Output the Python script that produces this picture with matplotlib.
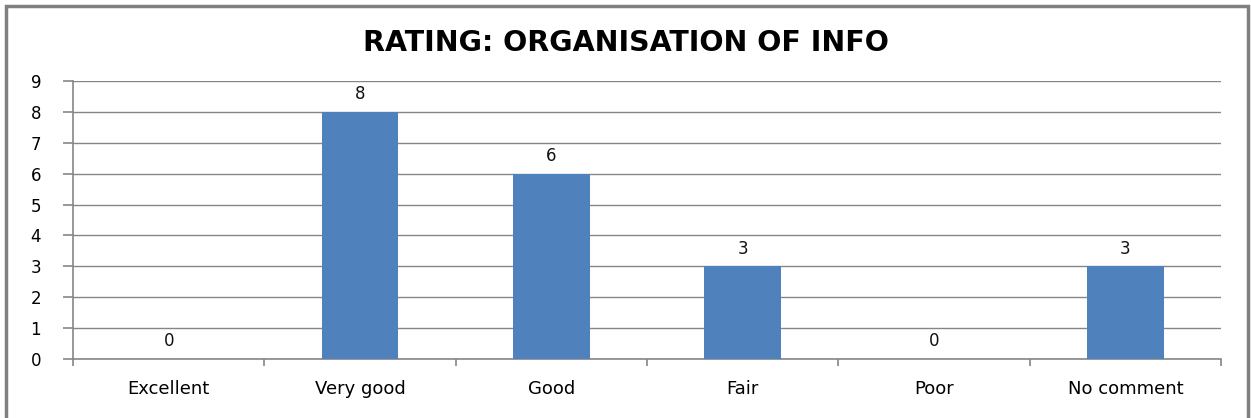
import matplotlib
matplotlib.use('Agg')
import matplotlib.pyplot as plt
from matplotlib.patches import Rectangle

categories = ['Excellent', 'Very good', 'Good', 'Fair', 'Poor', 'No comment']
counts = [0, 8, 6, 3, 0, 3]
y_ticks = list(range(0, 10))

plt.rcParams['font.family'] = ['DejaVu Sans']

fig = plt.figure(figsize=(12.51, 4.18), dpi=100)
ax = fig.add_axes([73 / 1251, 1 - 359 / 418, (1221 - 73) / 1251, (359 - 81) / 418])

x = list(range(len(categories)))
bars = ax.bar(x, counts, width=0.4, color='#4F81BD', zorder=3)
for xi, v in zip(x, counts):
    ax.text(xi, v + 0.28, str(v), ha='center', va='bottom', fontsize=12, color='#111111')

ax.set_xlim(-0.5, len(categories) - 0.5)
ax.set_ylim(0, 9)
ax.set_yticks(y_ticks)
ax.set_yticklabels([str(t) for t in y_ticks], fontsize=12)
ax.set_xticks(x)
ax.set_xticklabels(categories, fontsize=13)
ax.set_xticks([i - 0.5 for i in range(len(categories) + 1)], minor=True)
ax.tick_params(axis='x', which='major', length=0, pad=15)
ax.tick_params(axis='x', which='minor', length=5, color='#868686', width=1.2)
ax.tick_params(axis='y', length=7, color='#868686', width=1.2, pad=16)

ax.grid(axis='y', color='#868686', linewidth=1, zorder=0)
for side in ['top', 'right']:
    ax.spines[side].set_visible(False)
for side in ['left', 'bottom']:
    ax.spines[side].set_color('#868686')
    ax.spines[side].set_linewidth(1.2)

fig.text(0.5, 1 - 43 / 418, 'RATING: ORGANISATION OF INFO', ha='center', va='center',
         fontsize=20.5, fontweight='bold', color='#000000')

fig.patches.append(Rectangle((6 / 1251, -0.01), 1242 / 1251, 1 - 6 / 418 + 0.01,
                             transform=fig.transFigure, fill=False,
                             edgecolor='#808080', linewidth=2.5))

fig.savefig('out.png', dpi=100)
